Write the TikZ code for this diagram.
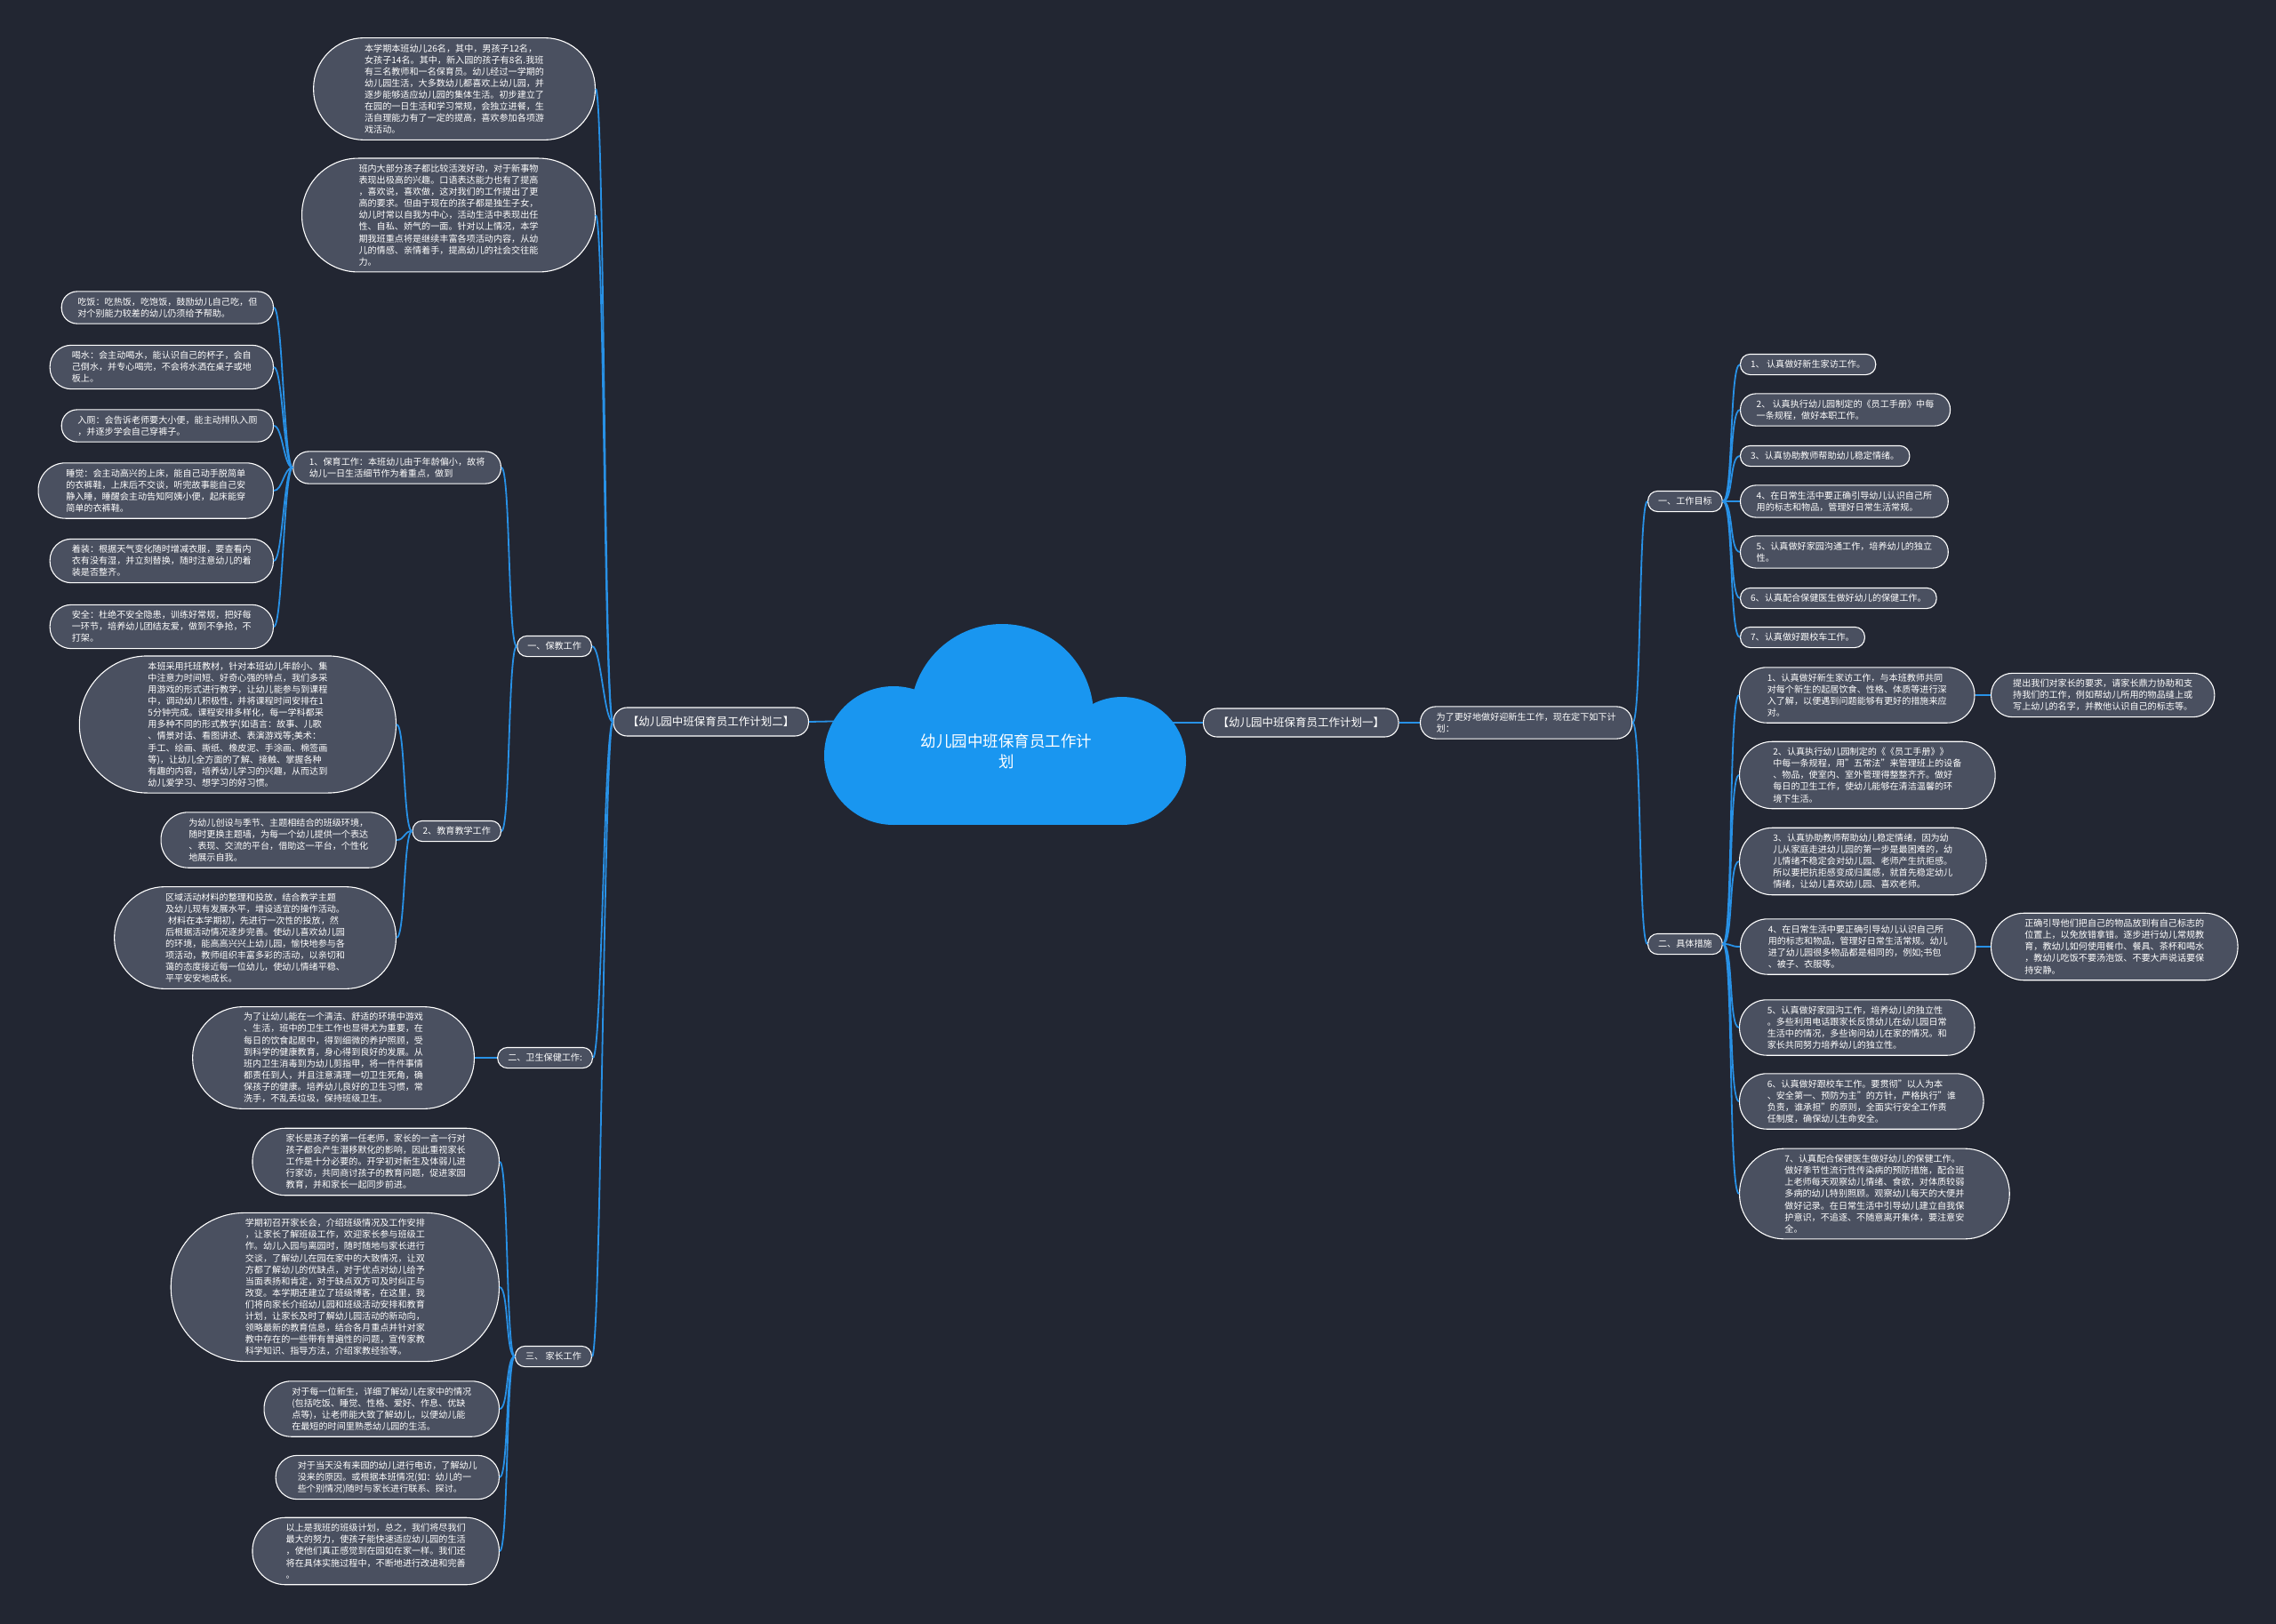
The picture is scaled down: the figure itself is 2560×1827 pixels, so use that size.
\documentclass[tikz,border=0pt]{standalone}
\usepackage{fontspec}
\setmainfont{Noto Sans CJK SC}
\usepackage{tikz}
\definecolor{mapbg}{RGB}{34,38,50}
\definecolor{nodefill}{RGB}{74,80,96}
\definecolor{linkblue}{RGB}{40,145,230}
\definecolor{cloudblue}{RGB}{25,150,240}
\tikzset{
  leaf/.style={rectangle, draw=white, fill=nodefill, line width=1.1pt,
    text=white, align=left, inner ysep=0pt,
    minimum height={13.1*#1+10}, inner xsep={(13.1*#1+10)/2},
    rounded corners={(13.1*#1+10)/2-0.6},
    font=\fontsize{10.1pt}{13.1pt}\selectfont},
  leaf/.default=1,
  topic/.style={leaf, minimum height=32, inner xsep=16, rounded corners=15.4,
    font=\fontsize{12.5pt}{16pt}\selectfont},
  link/.style={draw=linkblue, line width=1.8pt},
  fan/.style={to path={.. controls +(#1,0) and +({-(#1)},0) .. (\tikztotarget)}}
}

\begin{document}
\begin{tikzpicture}[x=1pt, y=-1pt]
  \fill[mapbg] (0,0) rectangle (2560,1827);
  \useasboundingbox (0,0) rectangle (2560,1827);

  \coordinate (rootL) at (960,811);
  \coordinate (rootR) at (1300,813);

  % left half
  \node[topic, anchor=east] (plan2) at (910,812) {【幼儿园中班保育员工作计划二】};
  \node[leaf=8, anchor=east] (intro1) at (670,100) {本学期本班幼儿26名，其中，男孩子12名，\\女孩子14名。其中，新入园的孩子有8名.我班\\有三名教师和一名保育员。幼儿经过一学期的\\幼儿园生活，大多数幼儿都喜欢上幼儿园，并\\逐步能够适应幼儿园的集体生活。初步建立了\\在园的一日生活和学习常规，会独立进餐，生\\活自理能力有了一定的提高，喜欢参加各项游\\戏活动。};
  \node[leaf=9, anchor=east] (intro2) at (670,242) {班内大部分孩子都比较活泼好动，对于新事物\\表现出极高的兴趣。口语表达能力也有了提高\\，喜欢说，喜欢做，这对我们的工作提出了更\\高的要求。但由于现在的孩子都是独生子女，\\幼儿时常以自我为中心，活动生活中表现出任\\性、自私、娇气的一面。针对以上情况，本学\\期我班重点将是继续丰富各项活动内容，从幼\\儿的情感、亲情着手，提高幼儿的社会交往能\\力。};
  \node[leaf, anchor=east] (care) at (666,727) {一、保教工作};
  \node[leaf, anchor=east] (hyg) at (667,1190) {二、卫生保健工作:};
  \node[leaf, anchor=east] (home) at (666,1526) {三、 家长工作};

  \node[leaf=2, anchor=east] (nurse) at (564,526) {1、保育工作：本班幼儿由于年龄偏小，故将\\幼儿一日生活细节作为着重点，做到};
  \node[leaf, anchor=east] (teach) at (564,935) {2、教育教学工作};

  \node[leaf=2, anchor=east] (eat) at (308,346) {吃饭：吃热饭，吃饱饭，鼓励幼儿自己吃，但\\对个别能力较差的幼儿仍须给予帮助。};
  \node[leaf=3, anchor=east] (drink) at (308,413) {喝水：会主动喝水，能认识自己的杯子，会自\\己倒水，并专心喝完，不会将水洒在桌子或地\\板上。};
  \node[leaf=2, anchor=east] (toilet) at (308,479) {入厕：会告诉老师要大小便，能主动排队入厕\\，并逐步学会自己穿裤子。};
  \node[leaf=4, anchor=east] (sleep) at (308,552) {睡觉：会主动高兴的上床，能自己动手脱简单\\的衣裤鞋，上床后不交谈，听完故事能自己安\\静入睡，睡醒会主动告知阿姨小便，起床能穿\\简单的衣裤鞋。};
  \node[leaf=3, anchor=east] (dress) at (308,631) {着装：根据天气变化随时增减衣服，要查看内\\衣有没有湿，并立刻替换，随时注意幼儿的着\\装是否整齐。};
  \node[leaf=3, anchor=east] (safe) at (308,705) {安全：杜绝不安全隐患，训练好常规，把好每\\一环节，培养幼儿团结友爱，做到不争抢，不\\打架。};

  \node[leaf=11, anchor=east] (edu1) at (446,815) {本班采用托班教材，针对本班幼儿年龄小、集\\中注意力时间短、好奇心强的特点，我们多采\\用游戏的形式进行教学，让幼儿能参与到课程\\中，调动幼儿积极性，并将课程时间安排在1\\5分钟完成。课程安排多样化，每一学科都采\\用多种不同的形式教学(如语言：故事、儿歌\\、情景对话、看图讲述、表演游戏等;美术：\\手工、绘画、撕纸、橡皮泥、手涂画、棉签画\\等)，让幼儿全方面的了解、接触、掌握各种\\有趣的内容，培养幼儿学习的兴趣，从而达到\\幼儿爱学习、想学习的好习惯。};
  \node[leaf=4, anchor=east] (edu2) at (446,945) {为幼儿创设与季节、主题相结合的班级环境，\\随时更换主题墙，为每一个幼儿提供一个表达\\、表现、交流的平台，借助这一平台，个性化\\地展示自我。};
  \node[leaf=8, anchor=east] (edu3) at (446,1055) {区域活动材料的整理和投放，结合教学主题\\及幼儿现有发展水平，增设适宜的操作活动。\\\hspace*{0.3em}材料在本学期初，先进行一次性的投放，然\\后根据活动情况逐步完善。使幼儿喜欢幼儿园\\的环境，能高高兴兴上幼儿园，愉快地参与各\\项活动，教师组织丰富多彩的活动，以亲切和\\蔼的态度接近每一位幼儿，使幼儿情绪平稳、\\平平安安地成长。};

  \node[leaf=8, anchor=east] (hyg1) at (534,1190) {为了让幼儿能在一个清洁、舒适的环境中游戏\\、生活，班中的卫生工作也显得尤为重要，在\\每日的饮食起居中，得到细微的养护照顾，受\\到科学的健康教育，身心得到良好的发展。从\\班内卫生消毒到为幼儿剪指甲，将一件件事情\\都责任到人，并且注意清理一切卫生死角，确\\保孩子的健康。培养幼儿良好的卫生习惯，常\\洗手，不乱丢垃圾，保持班级卫生。};

  \node[leaf=5, anchor=east] (home1) at (562,1307) {家长是孩子的第一任老师，家长的一言一行对\\孩子都会产生潜移默化的影响，因此重视家长\\工作是十分必要的。开学初对新生及体弱儿进\\行家访，共同商讨孩子的教育问题，促进家园\\教育，并和家长一起同步前进。};
  \node[leaf=12, anchor=east] (home2) at (562,1448) {学期初召开家长会，介绍班级情况及工作安排\\，让家长了解班级工作，欢迎家长参与班级工\\作。幼儿入园与离园时，随时随地与家长进行\\交谈，了解幼儿在园在家中的大致情况，让双\\方都了解幼儿的优缺点，对于优点对幼儿给予\\当面表扬和肯定，对于缺点双方可及时纠正与\\改变。本学期还建立了班级博客，在这里，我\\们将向家长介绍幼儿园和班级活动安排和教育\\计划，让家长及时了解幼儿园活动的新动向，\\领略最新的教育信息，结合各月重点并针对家\\教中存在的一些带有普遍性的问题，宣传家教\\科学知识、指导方法，介绍家教经验等。};
  \node[leaf=4, anchor=east] (home3) at (562,1585) {对于每一位新生，详细了解幼儿在家中的情况\\(包括吃饭、睡觉、性格、爱好、作息、优缺\\点等)，让老师能大致了解幼儿，以便幼儿能\\在最短的时间里熟悉幼儿园的生活。};
  \node[leaf=3, anchor=east] (home4) at (562,1662) {对于当天没有来园的幼儿进行电访，了解幼儿\\没来的原因。或根据本班情况(如：幼儿的一\\些个别情况)随时与家长进行联系、探讨。};
  \node[leaf=5, anchor=east] (home5) at (562,1745) {以上是我班的班级计划，总之，我们将尽我们\\最大的努力，使孩子能快速适应幼儿园的生活\\，使他们真正感觉到在园如在家一样。我们还\\将在具体实施过程中，不断地进行改进和完善\\。};

  % right half
  \node[topic, anchor=west] (plan1) at (1353,813) {【幼儿园中班保育员工作计划一】};
  \node[leaf=2, anchor=west] (aim) at (1597,813) {为了更好地做好迎新生工作，现在定下如下计\\划：};
  \node[leaf, anchor=west] (goal) at (1853,564) {一、工作目标};
  \node[leaf, anchor=west] (measure) at (1853,1062) {二、具体措施};

  \node[leaf, anchor=west] (g1) at (1957,410) {1、 认真做好新生家访工作。};
  \node[leaf=2, anchor=west] (g2) at (1957,461) {2、 认真执行幼儿园制定的《员工手册》中每\\一条规程，做好本职工作。};
  \node[leaf, anchor=west] (g3) at (1957,513) {3、认真协助教师帮助幼儿稳定情绪。};
  \node[leaf=2, anchor=west] (g4) at (1957,564) {4、在日常生活中要正确引导幼儿认识自己所\\用的标志和物品，管理好日常生活常规。};
  \node[leaf=2, anchor=west] (g5) at (1957,621) {5、认真做好家园沟通工作，培养幼儿的独立\\性。};
  \node[leaf, anchor=west] (g6) at (1957,673) {6、认真配合保健医生做好幼儿的保健工作。};
  \node[leaf, anchor=west] (g7) at (1957,717) {7、认真做好跟校车工作。};

  \node[leaf=4, anchor=west] (m1) at (1956,782) {1、认真做好新生家访工作，与本班教师共同\\对每个新生的起居饮食、性格、体质等进行深\\入了解，以便遇到问题能够有更好的措施来应\\对。};
  \node[leaf=5, anchor=west] (m2) at (1956,872) {2、认真执行幼儿园制定的《《员工手册》》\\中每一条规程，用"五常法"来管理班上的设备\\、物品，使室内、室外管理得整整齐齐。做好\\每日的卫生工作，使幼儿能够在清洁温馨的环\\境下生活。};
  \node[leaf=5, anchor=west] (m3) at (1956,969) {3、认真协助教师帮助幼儿稳定情绪，因为幼\\儿从家庭走进幼儿园的第一步是最困难的，幼\\儿情绪不稳定会对幼儿园、老师产生抗拒感。\\所以要把抗拒感变成归属感，就首先稳定幼儿\\情绪，让幼儿喜欢幼儿园、喜欢老师。};
  \node[leaf=4, anchor=west] (m4) at (1957,1065) {4、在日常生活中要正确引导幼儿认识自己所\\用的标志和物品，管理好日常生活常规。幼儿\\进了幼儿园很多物品都是相同的，例如;书包\\、被子、衣服等。};
  \node[leaf=4, anchor=west] (m5) at (1956,1156) {5、认真做好家园沟工作，培养幼儿的独立性\\。多些利用电话跟家长反馈幼儿在幼儿园日常\\生活中的情况，多些询问幼儿在家的情况。和\\家长共同努力培养幼儿的独立性。};
  \node[leaf=4, anchor=west] (m6) at (1956,1239) {6、认真做好跟校车工作。要贯彻"以人为本\\、安全第一、预防为主"的方针，严格执行"谁\\负责，谁承担"的原则，全面实行安全工作责\\任制度，确保幼儿生命安全。};
  \node[leaf=7, anchor=west] (m7) at (1956,1343) {7、认真配合保健医生做好幼儿的保健工作。\\做好季节性流行性传染病的预防措施，配合班\\上老师每天观察幼儿情绪、食欲，对体质较弱\\多病的幼儿特别照顾。观察幼儿每天的大便并\\做好记录。在日常生活中引导幼儿建立自我保\\护意识，不追逐、不随意离开集体，要注意安\\全。};

  \node[leaf=3, anchor=west] (n1) at (2239,782) {提出我们对家长的要求，请家长鼎力协助和支\\持我们的工作，例如帮幼儿所用的物品缝上或\\写上幼儿的名字，并教他认识自己的标志等。};
  \node[leaf=5, anchor=west] (n2) at (2239,1065) {正确引导他们把自己的物品放到有自己标志的\\位置上，以免放错拿错。逐步进行幼儿常规教\\育，教幼儿如何使用餐巾、餐具、茶杯和喝水\\，教幼儿吃饭不要汤泡饭、不要大声说话要保\\持安静。};

  % connectors
  \draw[link] (rootL) -- (plan2.east);
  \draw[link] (rootR) -- (plan1.west);
  \draw[link] (plan1.east) -- (aim.west);
  \draw[link] (aim.east) to[fan=10] (goal.west);
  \draw[link] (aim.east) to[fan=10] (measure.west);
  \draw[link] (goal.east) to[fan=12] (g1.west);
  \draw[link] (goal.east) to[fan=12] (g2.west);
  \draw[link] (goal.east) to[fan=12] (g3.west);
  \draw[link] (goal.east) to[fan=12] (g4.west);
  \draw[link] (goal.east) to[fan=12] (g5.west);
  \draw[link] (goal.east) to[fan=12] (g6.west);
  \draw[link] (goal.east) to[fan=12] (g7.west);
  \draw[link] (measure.east) to[fan=12] (m1.west);
  \draw[link] (measure.east) to[fan=12] (m2.west);
  \draw[link] (measure.east) to[fan=12] (m3.west);
  \draw[link] (measure.east) to[fan=12] (m4.west);
  \draw[link] (measure.east) to[fan=12] (m5.west);
  \draw[link] (measure.east) to[fan=12] (m6.west);
  \draw[link] (measure.east) to[fan=12] (m7.west);
  \draw[link] (m1.east) -- (n1.west);
  \draw[link] (m4.east) -- (n2.west);

  \draw[link] (plan2.west) to[fan=-10] (intro1.east);
  \draw[link] (plan2.west) to[fan=-10] (intro2.east);
  \draw[link] (plan2.west) to[fan=-10] (care.east);
  \draw[link] (plan2.west) to[fan=-10] (hyg.east);
  \draw[link] (plan2.west) to[fan=-10] (home.east);
  \draw[link] (care.west) to[fan=-10] (nurse.east);
  \draw[link] (care.west) to[fan=-10] (teach.east);
  \draw[link] (nurse.west) to[fan=-10] (eat.east);
  \draw[link] (nurse.west) to[fan=-10] (drink.east);
  \draw[link] (nurse.west) to[fan=-10] (toilet.east);
  \draw[link] (nurse.west) to[fan=-10] (sleep.east);
  \draw[link] (nurse.west) to[fan=-10] (dress.east);
  \draw[link] (nurse.west) to[fan=-10] (safe.east);
  \draw[link] (teach.west) to[fan=-10] (edu1.east);
  \draw[link] (teach.west) to[fan=-10] (edu2.east);
  \draw[link] (teach.west) to[fan=-10] (edu3.east);
  \draw[link] (hyg.west) -- (hyg1.east);
  \draw[link] (home.west) to[fan=-10] (home1.east);
  \draw[link] (home.west) to[fan=-10] (home2.east);
  \draw[link] (home.west) to[fan=-10] (home3.east);
  \draw[link] (home.west) to[fan=-10] (home4.east);
  \draw[link] (home.west) to[fan=-10] (home5.east);

  % cloud
  \fill[cloudblue] (1127,805) circle[radius=103pt];
  \fill[cloudblue] (1005,850) circle[radius=78pt];
  \fill[cloudblue] (1262,856) circle[radius=72pt];
  \fill[cloudblue] (1005,850) rectangle (1262,928);
  \node[text=white, align=center, font=\fontsize{17.5pt}{23pt}\selectfont] (root) at (1132,845) {幼儿园中班保育员工作计\\划};
\end{tikzpicture}
\end{document}
